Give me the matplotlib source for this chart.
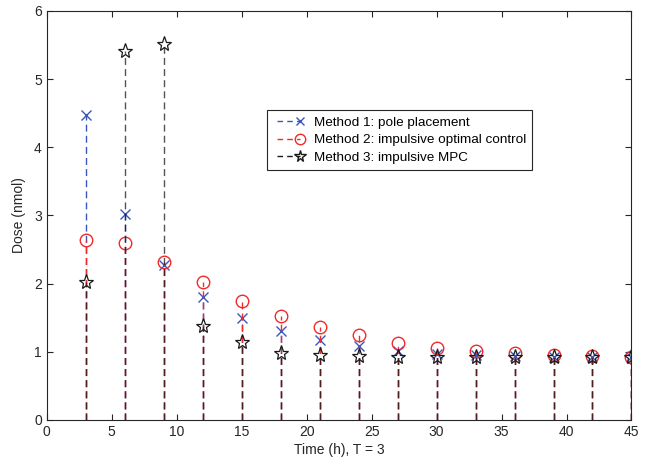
import numpy as np
import matplotlib
matplotlib.use("Agg")
import matplotlib.pyplot as plt
from matplotlib.lines import Line2D
from matplotlib.legend_handler import HandlerLine2D

plt.rcParams['font.family'] = ['Liberation Sans', 'DejaVu Sans']

# Dose data
t = [3, 6, 9, 12, 15, 18, 21, 24, 27, 30, 33, 36, 39, 42, 45]
dose_pole = [4.48, 3.02, 2.27, 1.80, 1.50, 1.31, 1.18, 1.09, 1.01, 0.97, 0.95, 0.94, 0.93, 0.93, 0.92]
dose_optimal = [2.64, 2.60, 2.32, 2.03, 1.75, 1.53, 1.37, 1.24, 1.13, 1.06, 1.01, 0.98, 0.95, 0.94, 0.93]
dose_mpc = [2.03, 5.42, 5.52, 1.38, 1.15, 0.98, 0.95, 0.94, 0.93, 0.93, 0.93, 0.93, 0.93, 0.92, 0.92]

labels = ["Method 1: pole placement",
          "Method 2: impulsive optimal control",
          "Method 3: impulsive MPC"]

blue = '#3a56c0'
red = '#f02a2a'
black = '#1a1a1a'


# legend entry like MATLAB stem: dashes on the left, marker at the right end
class StemHandler(HandlerLine2D):
    def create_artists(self, legend, orig_handle, xdescent, ydescent,
                       width, height, fontsize, trans):
        arts = super().create_artists(legend, orig_handle, xdescent, ydescent,
                                      width, height, fontsize, trans)
        for a in arts:
            n = len(a.get_xdata())
            a.set_markevery([n - 1])
        return arts


fig = plt.figure(figsize=(6.49, 4.65), dpi=100)
ax = fig.add_axes([0.072, 0.0968, 0.901, 0.8796])

dash = (0, (5, 3))

# Method 1
m1, s1, b1 = ax.stem(t, dose_pole, linefmt='--', basefmt=' ')
s1.set_color(blue)
s1.set_linestyle(dash)
s1.set_linewidth(1.0)
m1.set_marker('x')
m1.set_color(blue)
m1.set_markersize(7)
m1.set_markeredgewidth(1.0)

# Method 2
m2, s2, b2 = ax.stem(t, dose_optimal, linefmt='--', basefmt=' ')
s2.set_color(red)
s2.set_linestyle(dash)
s2.set_linewidth(1.0)
m2.set_marker('o')
m2.set_markerfacecolor('none')
m2.set_markeredgecolor(red)
m2.set_markersize(9)
m2.set_markeredgewidth(1.0)

# Method 3
m3, s3, b3 = ax.stem(t, dose_mpc, linefmt='--', basefmt=' ')
s3.set_color(black)
s3.set_alpha(0.75)
s3.set_linestyle(dash)
s3.set_linewidth(1.0)
m3.set_marker('*')
m3.set_markerfacecolor('none')
m3.set_markeredgecolor(black)
m3.set_markersize(11)
m3.set_markeredgewidth(0.9)

handles = [
    Line2D([], [], color=blue, linestyle=(0, (4, 3)), lw=1.0, marker='x', markersize=6),
    Line2D([], [], color=red, linestyle=(0, (4, 3)), lw=1.0, marker='o', markersize=7.5,
           markerfacecolor='none'),
    Line2D([], [], color=black, linestyle=(0, (4, 3)), lw=1.0, marker='*', markersize=8.5,
           markerfacecolor='none'),
]
leg = ax.legend(handles, labels, loc='upper left', bbox_to_anchor=(0.377, 0.757),
                fontsize=9.7, frameon=True, fancybox=False, framealpha=1,
                edgecolor='#262626', borderpad=0.45, labelspacing=0.38,
                handlelength=2.3, handletextpad=0.7, borderaxespad=0,
                numpoints=2, handler_map={Line2D: StemHandler()})
leg.get_frame().set_linewidth(0.8)

ax.set_xlim(0, 45)
ax.set_ylim(0, 6)
ax.set_xticks(np.arange(0, 46, 5))
ax.set_yticks(np.arange(0, 7, 1))
ax.set_xlabel("Time (h), T = 3", fontsize=10, color='#262626', labelpad=3)
ax.set_ylabel("Dose (nmol)", fontsize=10, color='#262626', labelpad=6)

ax.tick_params(direction='in', top=True, right=True, length=4, width=0.8,
               colors='#262626', labelsize=10, labelcolor='#262626')
for sp in ax.spines.values():
    sp.set_linewidth(0.8)
    sp.set_color('#262626')

fig.savefig("out.png", dpi=100)
